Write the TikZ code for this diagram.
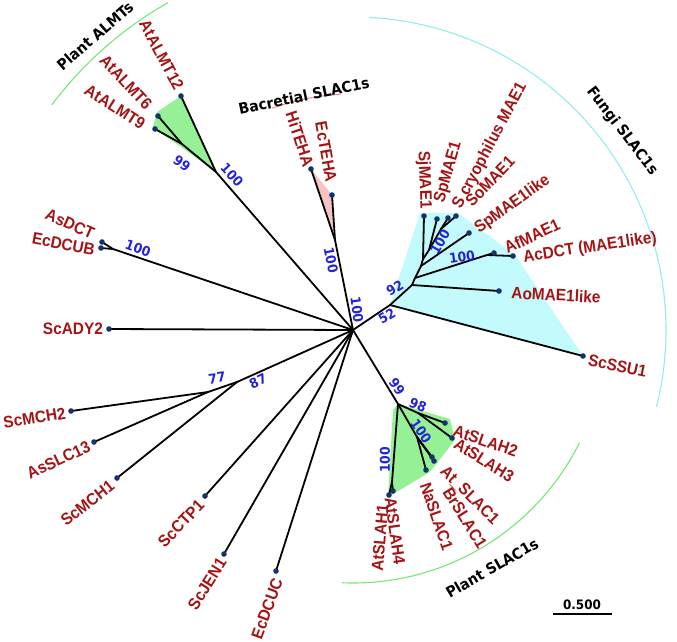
\documentclass[tikz,border=0pt]{standalone}
\usepackage{fontspec}
\newfontfamily\labfont{Liberation Sans}[FakeStretch=0.93]
\newfontfamily\numfont{DejaVu Sans}[FakeStretch=0.92]
\newfontfamily\grpfont{DejaVu Sans}[FakeStretch=0.93]
\usetikzlibrary{calc}
\definecolor{labred}{RGB}{165,20,20}
\definecolor{numblue}{RGB}{35,35,215}
\definecolor{dotblue}{RGB}{20,50,110}
\definecolor{fillgreen}{RGB}{150,240,150}
\definecolor{fillcyan}{RGB}{195,250,252}
\definecolor{fillpink}{RGB}{245,195,195}
\definecolor{arcgreen}{RGB}{120,230,120}
\definecolor{arccyan}{RGB}{150,235,240}
\definecolor{arcpink}{RGB}{235,150,150}
\begin{document}
\begin{tikzpicture}[x=1pt,y=-1pt,
  branch/.style={line width=1.8pt,black,line cap=round},
  lab/.style={font=\labfont\bfseries\fontsize{16.6}{19}\selectfont,text=labred,inner sep=0pt},
  boot/.style={font=\numfont\bfseries\fontsize{13.5}{15}\selectfont,text=numblue,inner sep=0pt},
  grp/.style={font=\grpfont\bfseries\fontsize{15}{17}\selectfont,text=black,inner sep=0pt},
  cladearc/.style={line width=1.1pt}]
\useasboundingbox (0,0) rectangle (677,641);
\fill[white] (0,0) rectangle (677,641);
% root and internal nodes
\coordinate (R) at (353,330);
\coordinate (nA) at (216,172);
\coordinate (nA2) at (182,144);
\coordinate (nD) at (113,249);
\coordinate (n87) at (237,382);
\coordinate (n77) at (208,392);
\coordinate (nB) at (335,240);
\coordinate (n52) at (390,305);
\coordinate (n92) at (412,285);
\coordinate (nF2) at (415,278);
\coordinate (nAf) at (487,255);
\coordinate (nF3) at (421,266);
\coordinate (nF4) at (423,259);
\coordinate (nF5) at (429,250);
\coordinate (nF6) at (441,229);
\coordinate (nS) at (398,404);
\coordinate (nS1) at (418,413);
\coordinate (nS2) at (417,437);
\coordinate (nS3) at (392,482);
% leaves
\coordinate (lALMT12) at (181,96);
\coordinate (lALMT6) at (158,116);
\coordinate (lALMT9) at (155,129);
\coordinate (lAsDCT) at (102,242);
\coordinate (lEcDCUB) at (101,248);
\coordinate (lADY2) at (109,329);
\coordinate (lMCH2) at (71,411);
\coordinate (lSLC13) at (94,442);
\coordinate (lMCH1) at (117,478);
\coordinate (lCTP1) at (205,496);
\coordinate (lJEN1) at (224,554);
\coordinate (lDCUC) at (276,571);
\coordinate (lHiT) at (311,169);
\coordinate (lEcT) at (332,195);
\coordinate (lSSU1) at (583,356);
\coordinate (lAo) at (499,291);
\coordinate (lAf) at (494,253);
\coordinate (lAc) at (513,256);
\coordinate (lSpl) at (469,233);
\coordinate (lSj) at (424,216);
\coordinate (lSp) at (437,219);
\coordinate (lScr) at (448,218);
\coordinate (lSo) at (456,216);
\coordinate (lSLAH2) at (445,423);
\coordinate (lSLAH3) at (452,438);
\coordinate (lAtSLAC) at (432,457);
\coordinate (lBrSLAC) at (434,461);
\coordinate (lNaSLAC) at (426,470);
\coordinate (lSLAH4) at (393,491);
\coordinate (lSLAH1) at (389,495);
% clade shading
\fill[fillgreen] (nA) -- (lALMT12) -- (157,112) -- (153,127) -- cycle;
\fill[fillpink] (nB) -- (lHiT) -- (lEcT) -- cycle;
\fill[fillcyan] (n52) -- (420,213) -- (458,213) -- (515,255) -- (lSSU1) -- cycle;
\fill[fillgreen] (nS) -- (450,419) -- (455,440) -- (430,472) -- (388,497) -- (393,410) -- cycle;
% clade arcs
\draw[cladearc,arcgreen] ($(R)+(-143.2:376)$) arc[start angle=-143.2,end angle=-119.5,radius=376];
\draw[cladearc,arcpink] ($(R)+(-110:236)$) arc[start angle=-110,end angle=-93,radius=236];
\draw[cladearc,arccyan] ($(R)+(-87:313)$) arc[start angle=-87,end angle=14.2,radius=313];
\draw[cladearc,arcgreen] ($(R)+(26.5:253)$) arc[start angle=26.5,end angle=92.5,radius=253];
% branches
\draw[branch] (R) -- (nA);
\draw[branch] (nA) -- (lALMT12);
\draw[branch] (nA) -- (nA2);
\draw[branch] (nA2) -- (lALMT6);
\draw[branch] (nA2) -- (lALMT9);
\draw[branch] (R) -- (nD);
\draw[branch] (nD) -- (lAsDCT);
\draw[branch] (nD) -- (lEcDCUB);
\draw[branch] (R) -- (lADY2);
\draw[branch] (R) -- (n87);
\draw[branch] (n87) -- (n77);
\draw[branch] (n77) -- (lMCH2);
\draw[branch] (n77) -- (lSLC13);
\draw[branch] (n87) -- (lMCH1);
\draw[branch] (R) -- (lCTP1);
\draw[branch] (R) -- (lJEN1);
\draw[branch] (R) -- (lDCUC);
\draw[branch] (R) -- (nB);
\draw[branch] (nB) -- (lHiT);
\draw[branch] (nB) -- (lEcT);
\draw[branch] (R) -- (n52);
\draw[branch] (n52) -- (lSSU1);
\draw[branch] (n52) -- (n92);
\draw[branch] (n92) -- (lAo);
\draw[branch] (n92) -- (nF2);
\draw[branch] (nF2) -- (nAf);
\draw[branch] (nAf) -- (lAf);
\draw[branch] (nAf) -- (lAc);
\draw[branch] (nF2) -- (nF3);
\draw[branch] (nF3) -- (lSpl);
\draw[branch] (nF3) -- (nF4);
\draw[branch] (nF4) -- (lSj);
\draw[branch] (nF4) -- (nF5);
\draw[branch] (nF5) -- (lSp);
\draw[branch] (nF5) -- (nF6);
\draw[branch] (nF6) -- (lScr);
\draw[branch] (nF6) -- (lSo);
\draw[branch] (R) -- (nS);
\draw[branch] (nS) -- (nS1);
\draw[branch] (nS1) -- (lSLAH2);
\draw[branch] (nS1) -- (lSLAH3);
\draw[branch] (nS) -- (nS2);
\draw[branch] (nS2) -- (lAtSLAC);
\draw[branch] (nS2) -- (lBrSLAC);
\draw[branch] (nS2) -- (lNaSLAC);
\draw[branch] (nS) -- (nS3);
\draw[branch] (nS3) -- (lSLAH4);
\draw[branch] (nS3) -- (lSLAH1);
% leaf dots
\foreach \l in {lALMT12,lALMT6,lALMT9,lAsDCT,lEcDCUB,lADY2,lMCH2,lSLC13,lMCH1,lCTP1,lJEN1,lDCUC,lHiT,lEcT,lSSU1,lAo,lAf,lAc,lSpl,lSj,lSp,lScr,lSo,lSLAH2,lSLAH3,lAtSLAC,lBrSLAC,lNaSLAC,lSLAH4,lSLAH1}
  \fill[dotblue] (\l) circle[radius=2.8];
% leaf labels
\node[lab,rotate=-62] (tALMT12) at (161.5,55) {AtALMT12};
\node[lab,rotate=-47] (tALMT6) at (126,82.5) {AtALMT6};
\node[lab,rotate=-32] (tALMT9) at (115,107) {AtALMT9};
\node[lab,rotate=-24] (tAsDCT) at (70,224) {AsDCT};
\node[lab,rotate=-11] (tEcDCUB) at (63.5,244) {EcDCUB};
\node[lab] (tADY2) at (73,329) {ScADY2};
\node[lab,rotate=9] (tMCH2) at (34.5,418) {ScMCH2};
\node[lab,rotate=25] (tSLC13) at (58.5,460) {AsSLC13};
\node[lab,rotate=38] (tMCH1) at (87.5,503) {ScMCH1};
\node[lab,rotate=46] (tCTP1) at (181,523.5) {ScCTP1};
\node[lab,rotate=58] (tJEN1) at (207,584) {ScJEN1};
\node[lab,rotate=70] (tDCUC) at (267,608.5) {EcDCUC};
\node[lab,rotate=-72] (tHiT) at (300,139) {HiTEHA};
\node[lab,rotate=-80] (tEcT) at (326,152) {EcTEHA};
\node[lab,rotate=-88] (tSj) at (424,180) {SjMAE1};
\node[lab,rotate=74] (tSp) at (448.5,172.5) {SpMAE1};
\node[lab,rotate=62] (tScr) at (490,146) {S cryophilus MAE1};
\node[lab,rotate=46] (tSo) at (490,181) {SoMAE1};
\node[lab,rotate=36] (tSpl) at (512.5,204.5) {SpMAE1like};
\node[lab,rotate=25] (tAf) at (532,236) {AfMAE1};
\node[lab,rotate=8.5] (tAc) at (590,248) {AcDCT (MAE1like)};
\node[lab,rotate=-3] (tAo) at (556,295) {AoMAE1like};
\node[lab,rotate=-12] (tSSU1) at (617.5,366) {ScSSU1};
\node[lab,rotate=-19] (tSLAH2) at (485.5,441) {AtSLAH2};
\node[lab,rotate=-32] (tSLAH3) at (484,460) {AtSLAH3};
\node[lab,rotate=-45] (tAtSLAC) at (469.5,495.5) {At\_SLAC1};
\node[lab,rotate=-58] (tBrSLAC) at (465,518) {BrSLAC1};
\node[lab,rotate=-71] (tNaSLAC) at (436.5,516.5) {NaSLAC1};
\node[lab,rotate=-82] (tSLAH4) at (395,531) {AtSLAH4};
\node[lab,rotate=85] (tSLAH1) at (380,538) {AtSLAH1};
% bootstrap values
\node[boot,rotate=-47] (bA) at (232,175) {100};
\node[boot,rotate=-35] (bA2) at (182,163) {99};
\node[boot,rotate=-20] (bD) at (138,248) {100};
\node[boot,rotate=-79] (bB) at (331,260) {100};
\node[boot,rotate=-82] (bR) at (357,310) {100};
\node[boot,rotate=30] (b52) at (387,316) {52};
\node[boot,rotate=30] (b92) at (395,288) {92};
\node[boot,rotate=60] (bF) at (440,242) {100};
\node[boot,rotate=8] (bAf) at (462,257) {100};
\node[boot,rotate=8] (b77) at (217,378) {77};
\node[boot,rotate=25] (b87) at (258,381) {87};
\node[boot,rotate=-55] (bS) at (397,387) {99};
\node[boot,rotate=-22] (bS1) at (418,405) {98};
\node[boot,rotate=-55] (bS2) at (421,431) {100};
\node[boot,rotate=90] (bS3) at (385,460) {100};
% clade names
\node[grp,rotate=41] (gALMT) at (95,36) {Plant ALMTs};
\node[grp,rotate=11.7] (gBact) at (304,96) {Bacretial SLAC1s};
\node[grp,rotate=-52.6] (gFungi) at (622,131) {Fungi SLAC1s};
\node[grp,rotate=30] (gSLAC) at (492,568) {Plant SLAC1s};
% scale bar
\coordinate (sb1) at (553,614);
\coordinate (sb2) at (612,614);
\draw[line width=1.3pt] (sb1) -- (sb2);
\node[grp,font=\numfont\bfseries\fontsize{13}{15}\selectfont] (sbt) at (582,605) {0.500};
\end{tikzpicture}
\end{document}
